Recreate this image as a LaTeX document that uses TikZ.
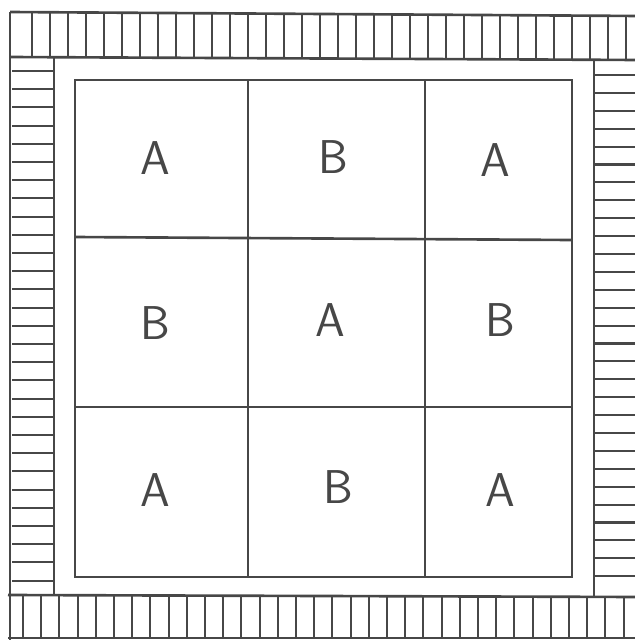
\documentclass[tikz,border=0pt]{standalone}
\usepackage{tikz}
\usetikzlibrary{positioning,calc}
\definecolor{pencil}{HTML}{474747}

\tikzset{
  wall/.style={line width=1.5pt, draw=pencil},
  hatch/.style={line width=1.2pt, draw=pencil},
  cellmark/.style={font=\fontsize{27}{30}\selectfont\sffamily, text=pencil, inner sep=0pt}
}

\begin{document}
\begin{tikzpicture}[x=0.02cm, y=-0.02cm]
  \useasboundingbox (0,0) rectangle (635,640);

  % Border bands
  \draw[wall] (10,12) -- (640,16);
  \draw[wall] (10,57) -- (640,60);
  \draw[wall] (10,12) -- (10,640);
  \draw[wall] (54,57) -- (54,595);
  \draw[wall] (594,60) -- (594,597);
  \draw[wall] (8,595) -- (640,597);
  \draw[wall] (8,638) -- (640,638);

  % Top and bottom hatching
  \foreach \i in {0,...,33} {
    \draw[hatch] ({32+18*\i}, {13+0.1*\i}) -- ({32+18*\i}, {57+0.1*\i});
    \draw[hatch] ({23+18.2*\i}, {596+0.05*\i}) -- ({23+18.2*\i}, 638);
  }

  % Side hatching
  \foreach \i in {0,...,28} {
    \draw[hatch] (12, {71+18.2*\i}) -- (54, {71+18.2*\i});
    \draw[hatch] (594, {75+17.9*\i}) -- (636, {75+17.9*\i});
  }

  % Inner square and grid
  \coordinate (nw) at (75,80);
  \coordinate (se) at (572,577);
  \draw[wall] (nw) rectangle (se);
  \draw[wall] (248,80) -- (248,577);
  \draw[wall] (425,80) -- (425,577);
  \draw[wall] (75,237) -- (572,240);
  \draw[wall] (75,407) -- (572,407);

  % Cell letters
  \node[cellmark] (c11) at (155,158) {A};
  \node[cellmark] (c12) at (333,157) {B};
  \node[cellmark] (c13) at (495,160) {A};
  \node[cellmark] (c21) at (155,323) {B};
  \node[cellmark] (c22) at (330,320) {A};
  \node[cellmark] (c23) at (500,320) {B};
  \node[cellmark] (c31) at (155,490) {A};
  \node[cellmark] (c32) at (338,487) {B};
  \node[cellmark] (c33) at (500,490) {A};
\end{tikzpicture}
\end{document}
